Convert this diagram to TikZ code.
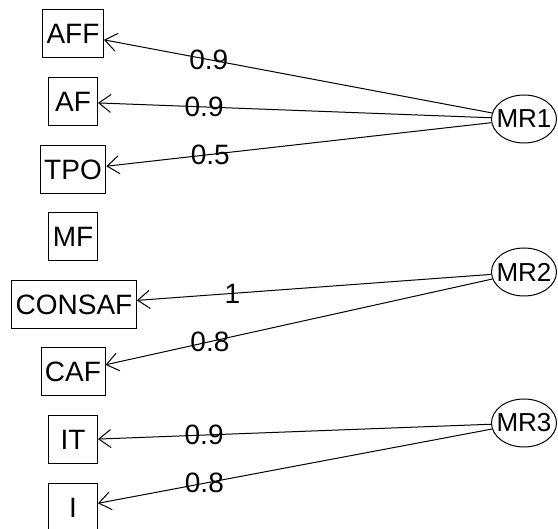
\documentclass[tikz,border=0pt]{standalone}
\usepackage{fontspec}
\setmainfont{Liberation Sans}
\usetikzlibrary{arrows.meta,shapes.geometric}

\begin{document}
\begin{tikzpicture}[x=0.5pt,y=-0.5pt,font=\fontsize{14}{16}\selectfont]
\useasboundingbox (0,0) rectangle (558,529);
 \begin{scope}[every node/.style={draw, rectangle, inner xsep=2pt, inner ysep=0pt,
                      minimum width=24.5pt, minimum height=24pt, line width=0.5pt}]
  \node (AFF) at (73,34) {AFF};
  \node (AF) at (73,102) {AF};
  \node (TPO) at (73,170) {TPO};
  \node (MF) at (73,237) {MF};
  \node (CONSAF) at (74,305) {CONSAF};
  \node (CAF) at (73,372) {CAF};
  \node (IT) at (73,440) {IT};
  \node (I) at (73,508) {I};
 \end{scope}
 \begin{scope}[every node/.style={draw, ellipse, inner sep=-4pt,
                      minimum width=32.5pt, minimum height=24pt, line width=0.5pt,
                      font=\fontsize{13}{15}\selectfont}]
  \node (MR1) at (524,119) {MR1};
  \node (MR2) at (524,272) {MR2};
  \node (MR3) at (524,423) {MR3};
 \end{scope}
 \tikzset{load/.style={-{Straight Barb[length=6pt,width=9pt]}, line width=0.5pt}}
  \path [load] (MR1) edge node[pos=0.73] {0.9} (AFF);
  \path [load] (MR1) edge node[pos=0.73] {0.9} (AF);
  \path [load] (MR1) edge node[pos=0.73] {0.5} (TPO);
  \path [load] (MR2) edge node[pos=0.73] {1} (CONSAF);
  \path [load] (MR2) edge node[pos=0.73] {0.8} (CAF);
  \path [load] (MR3) edge node[pos=0.73] {0.9} (IT);
  \path [load] (MR3) edge node[pos=0.73] {0.8} (I);
\end{tikzpicture}
\end{document}
